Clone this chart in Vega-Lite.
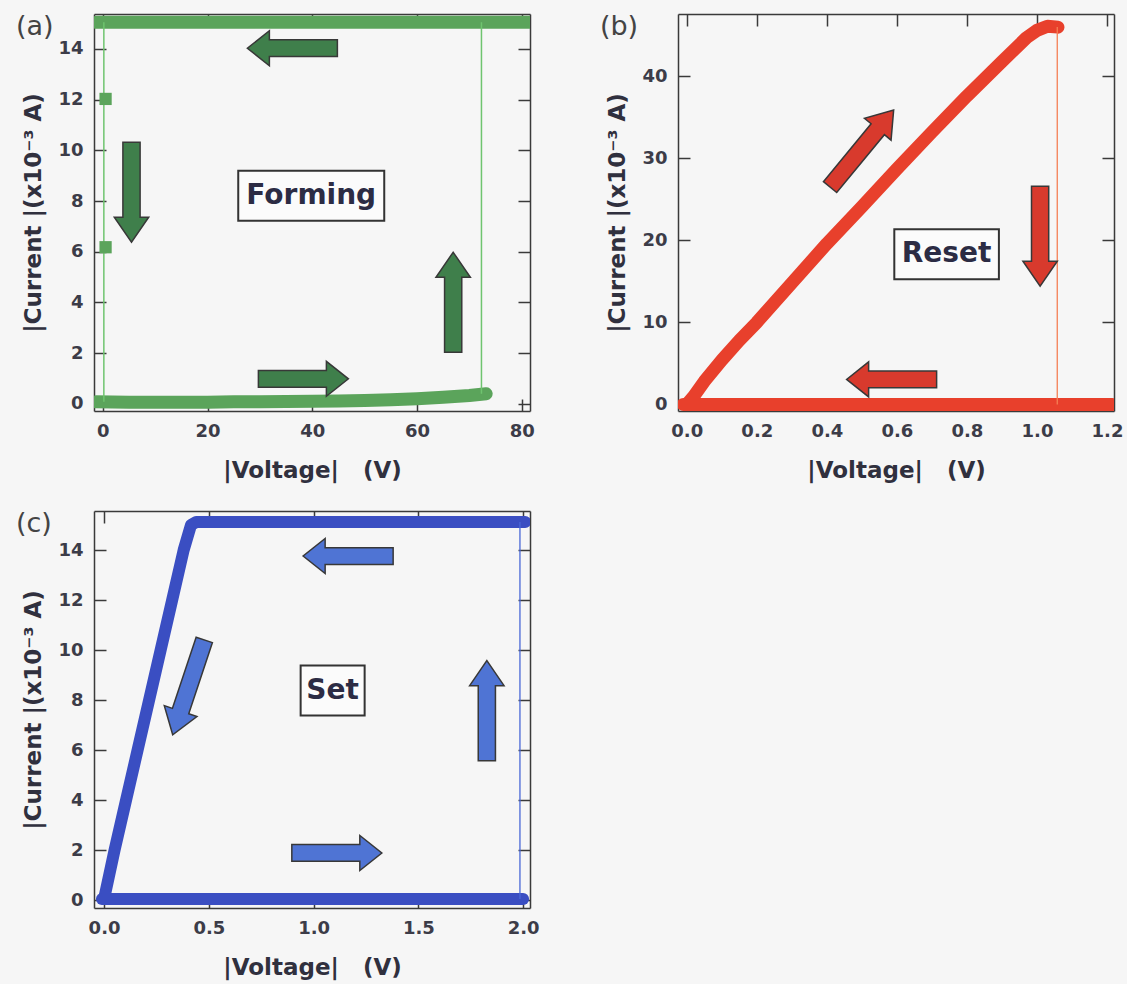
{
  "$schema": "https://vega.github.io/schema/vega-lite/v6.json",
  "background": "#f6f6f6",
  "padding": {"left": 15, "top": 13, "right": 5, "bottom": 5},
  "datasets": {
    "curves": [
      {"p":"a","k":"thick","s":"a1","v":-1.3,"i":0.08},{"p":"a","k":"thick","s":"a1","v":5,"i":0.07},{"p":"a","k":"thick","s":"a1","v":10,"i":0.07},{"p":"a","k":"thick","s":"a1","v":15,"i":0.07},{"p":"a","k":"thick","s":"a1","v":20,"i":0.07},{"p":"a","k":"thick","s":"a1","v":25,"i":0.08},{"p":"a","k":"thick","s":"a1","v":30,"i":0.08},{"p":"a","k":"thick","s":"a1","v":35,"i":0.09},{"p":"a","k":"thick","s":"a1","v":40,"i":0.1},{"p":"a","k":"thick","s":"a1","v":45,"i":0.11},{"p":"a","k":"thick","s":"a1","v":50,"i":0.13},{"p":"a","k":"thick","s":"a1","v":55,"i":0.16},{"p":"a","k":"thick","s":"a1","v":60,"i":0.2},{"p":"a","k":"thick","s":"a1","v":65,"i":0.26},{"p":"a","k":"thick","s":"a1","v":70,"i":0.33},{"p":"a","k":"thick","s":"a1","v":73.2,"i":0.4},
      {"p":"a","k":"thick","s":"a2","v":-1.3,"i":15.05},{"p":"a","k":"thick","s":"a2","v":81.5,"i":15.05},
      {"p":"a","k":"thin","s":"a3","v":72.3,"i":0.4},{"p":"a","k":"thin","s":"a3","v":72.3,"i":15.05},
      {"p":"a","k":"thin","s":"a4","v":0.2,"i":15.05},{"p":"a","k":"thin","s":"a4","v":0.2,"i":0.08},
      {"p":"b","k":"thick","s":"b1","v":0,"i":0},{"p":"b","k":"thick","s":"b1","v":0.02,"i":1.0},{"p":"b","k":"thick","s":"b1","v":0.05,"i":2.8},{"p":"b","k":"thick","s":"b1","v":0.1,"i":5.4},{"p":"b","k":"thick","s":"b1","v":0.15,"i":7.8},{"p":"b","k":"thick","s":"b1","v":0.2,"i":10.0},{"p":"b","k":"thick","s":"b1","v":0.3,"i":14.8},{"p":"b","k":"thick","s":"b1","v":0.4,"i":19.6},{"p":"b","k":"thick","s":"b1","v":0.5,"i":24.1},{"p":"b","k":"thick","s":"b1","v":0.6,"i":28.7},{"p":"b","k":"thick","s":"b1","v":0.7,"i":33.2},{"p":"b","k":"thick","s":"b1","v":0.8,"i":37.6},{"p":"b","k":"thick","s":"b1","v":0.9,"i":41.8},{"p":"b","k":"thick","s":"b1","v":0.97,"i":44.7},{"p":"b","k":"thick","s":"b1","v":1.0,"i":45.6},{"p":"b","k":"thick","s":"b1","v":1.03,"i":46.1},{"p":"b","k":"thick","s":"b1","v":1.06,"i":46.0},
      {"p":"b","k":"thick","s":"b2","v":-0.01,"i":0},{"p":"b","k":"thick","s":"b2","v":1.215,"i":0},
      {"p":"b","k":"thin","s":"b3","v":1.058,"i":46.0},{"p":"b","k":"thin","s":"b3","v":1.058,"i":0},
      {"p":"c","k":"thick","s":"c1","v":0.0,"i":0.05},{"p":"c","k":"thick","s":"c1","v":0.05,"i":2.0},{"p":"c","k":"thick","s":"c1","v":0.105,"i":4.0},{"p":"c","k":"thick","s":"c1","v":0.16,"i":6.0},{"p":"c","k":"thick","s":"c1","v":0.215,"i":8.0},{"p":"c","k":"thick","s":"c1","v":0.27,"i":10.0},{"p":"c","k":"thick","s":"c1","v":0.325,"i":12.0},{"p":"c","k":"thick","s":"c1","v":0.38,"i":14.0},{"p":"c","k":"thick","s":"c1","v":0.415,"i":15.0},{"p":"c","k":"thick","s":"c1","v":0.44,"i":15.12},{"p":"c","k":"thick","s":"c1","v":1.0,"i":15.12},{"p":"c","k":"thick","s":"c1","v":1.5,"i":15.12},{"p":"c","k":"thick","s":"c1","v":2.01,"i":15.12},
      {"p":"c","k":"thick","s":"c2","v":-0.01,"i":0.05},{"p":"c","k":"thick","s":"c2","v":2.0,"i":0.05},
      {"p":"c","k":"thin","s":"c3","v":1.985,"i":15.12},{"p":"c","k":"thin","s":"c3","v":1.985,"i":0.05}
    ],
    "markers": [
      {"p":"a","v":0.53,"i":12.03},{"p":"a","v":0.53,"i":6.18}
    ],
    "arrows": [
      {"p":"a","v":36.2,"i":14.03,"dir":"left"},{"p":"a","v":5.48,"i":8.35,"dir":"down"},{"p":"a","v":66.9,"i":4.01,"dir":"up"},{"p":"a","v":38.3,"i":0.99,"dir":"right"},
      {"p":"b","v":0.5,"i":31.2,"dir":"up-right"},{"p":"b","v":1.009,"i":20.5,"dir":"down"},{"p":"b","v":0.585,"i":3.05,"dir":"left"},
      {"p":"c","v":1.165,"i":13.76,"dir":"left"},{"p":"c","v":0.403,"i":8.51,"dir":"down-left"},{"p":"c","v":1.827,"i":7.58,"dir":"up"},{"p":"c","v":1.111,"i":1.89,"dir":"right"}
    ],
    "boxes": [
      {"p":"a","v":39.8,"i":8.21,"label":"Forming"},
      {"p":"b","v":0.742,"i":18.3,"label":"Reset"},
      {"p":"c","v":1.091,"i":8.38,"label":"Set"}
    ]
  },
  "vconcat": [
    {
      "hconcat": [
        {
          "width": 436, "height": 397,
          "title": {"text": "(a)", "anchor": "start", "frame": "bounds", "baseline": "top", "offset": 0, "dx": -7, "dy": 28, "fontSize": 27, "fontWeight": "normal", "font": "DejaVu Sans", "color": "#444444"},
          "resolve": {"axis": {"x": "independent", "y": "independent"}},
          "layer": [
            {"data": {"name": "curves"}, "transform": [{"filter": "datum.p == 'a' && datum.k == 'thick'"}],
             "mark": {"type": "line", "color": "#5ba45b", "strokeWidth": 13, "strokeCap": "round", "strokeJoin": "round", "clip": true},
             "encoding": {
               "x": {"field": "v", "type": "quantitative", "scale": {"domain": [-1.68, 81.57], "nice": false, "zero": false}, "axis": {"orient": "bottom", "values": [0,20,40,60,80], "format": "d", "title": "|Voltage|\u00a0\u00a0 (V)"}},
               "y": {"field": "i", "type": "quantitative", "scale": {"domain": [-0.28, 15.38], "nice": false, "zero": false}, "axis": {"orient": "left", "values": [0,2,4,6,8,10,12,14], "format": "d", "title": "|Current |(x10⁻³ A)"}},
               "detail": {"field": "s"}
             }},
            {"data": {"name": "curves"}, "transform": [{"filter": "datum.p == 'a' && datum.k == 'thin'"}],
             "mark": {"type": "line", "color": "#6fc46f", "strokeWidth": 1.5, "clip": true},
             "encoding": {
               "x": {"field": "v", "type": "quantitative", "scale": {"domain": [-1.68, 81.57], "nice": false, "zero": false}, "axis": {"orient": "top", "values": [0,20,40,60,80], "labels": false, "title": null}},
               "y": {"field": "i", "type": "quantitative", "scale": {"domain": [-0.28, 15.38], "nice": false, "zero": false}, "axis": {"orient": "right", "values": [0,2,4,6,8,10,12,14], "labels": false, "title": null}},
               "detail": {"field": "s"}
             }},
            {"data": {"name": "markers"}, "transform": [{"filter": "datum.p == 'a'"}],
             "mark": {"type": "point", "shape": "square", "filled": true, "size": 150, "color": "#5ba45b", "opacity": 1},
             "encoding": {
               "x": {"field": "v", "type": "quantitative", "axis": null},
               "y": {"field": "i", "type": "quantitative", "axis": null}
             }},
            {"data": {"name": "arrows"}, "transform": [{"filter": "datum.p == 'a'"}],
             "mark": {"type": "point", "filled": true, "size": 10000, "fill": "#3f7f4b", "stroke": "#383838", "strokeWidth": 1.5, "opacity": 1, "fillOpacity": 1},
             "encoding": {
               "x": {"field": "v", "type": "quantitative", "axis": null},
               "y": {"field": "i", "type": "quantitative", "axis": null},
               "shape": {"field": "dir", "type": "nominal", "legend": null, "scale": {"domain": ["right","left","up","down","up-right","down-left"], "range": ["M-0.9,-0.167L0.46,-0.167L0.46,-0.35L0.9,0L0.46,0.35L0.46,0.167L-0.9,0.167Z","M0.9,-0.167L-0.46,-0.167L-0.46,-0.35L-0.9,0L-0.46,0.35L-0.46,0.167L0.9,0.167Z","M-0.172,1L-0.172,-0.5L-0.344,-0.5L0,-1L0.344,-0.5L0.172,-0.5L0.172,1Z","M-0.172,-1L-0.172,0.5L-0.344,0.5L0,1L0.344,0.5L0.172,0.5L0.172,-1Z","M-0.769,0.663L0.185,-0.495L0.052,-0.605L0.636,-0.772L0.584,-0.167L0.451,-0.277L-0.503,0.881Z","M0.479,-0.895L0.005,0.529L0.169,0.583L-0.316,0.949L-0.484,0.366L-0.321,0.42L0.153,-1.003Z"]}}
             }},
            {"data": {"name": "boxes"}, "transform": [{"filter": "datum.p == 'a'"}],
             "mark": {"type": "point", "shape": "M-1,-0.342L1,-0.342L1,0.342L-1,0.342Z", "size": 21316, "filled": true, "fill": "#fbfbfb", "stroke": "#333333", "strokeWidth": 2, "opacity": 1},
             "encoding": {
               "x": {"field": "v", "type": "quantitative", "axis": null},
               "y": {"field": "i", "type": "quantitative", "axis": null}
             }},
            {"data": {"name": "boxes"}, "transform": [{"filter": "datum.p == 'a'"}],
             "mark": {"type": "text", "font": "DejaVu Sans", "fontWeight": "bold", "fontSize": 28, "color": "#2c2c44", "baseline": "middle", "align": "center"},
             "encoding": {
               "x": {"field": "v", "type": "quantitative", "axis": null},
               "y": {"field": "i", "type": "quantitative", "axis": null},
               "text": {"field": "label"}
             }}
          ]
        },
        {
          "width": 436, "height": 397,
          "title": {"text": "(b)", "anchor": "start", "frame": "bounds", "baseline": "top", "offset": 0, "dx": -7, "dy": 28, "fontSize": 27, "fontWeight": "normal", "font": "DejaVu Sans", "color": "#444444"},
          "resolve": {"axis": {"x": "independent", "y": "independent"}},
          "layer": [
            {"data": {"name": "curves"}, "transform": [{"filter": "datum.p == 'b' && datum.k == 'thick'"}],
             "mark": {"type": "line", "color": "#e8402c", "strokeWidth": 13, "strokeCap": "round", "strokeJoin": "round", "clip": true},
             "encoding": {
               "x": {"field": "v", "type": "quantitative", "scale": {"domain": [-0.025, 1.22], "nice": false, "zero": false}, "axis": {"orient": "bottom", "values": [0,0.2,0.4,0.6,0.8,1.0,1.2], "format": ".1f", "title": "|Voltage|\u00a0\u00a0 (V)"}},
               "y": {"field": "i", "type": "quantitative", "scale": {"domain": [-0.8, 47.6], "nice": false, "zero": false}, "axis": {"orient": "left", "values": [0,10,20,30,40], "format": "d", "title": "|Current |(x10⁻³ A)"}},
               "detail": {"field": "s"}
             }},
            {"data": {"name": "curves"}, "transform": [{"filter": "datum.p == 'b' && datum.k == 'thin'"}],
             "mark": {"type": "line", "color": "#f47f55", "strokeWidth": 1.3, "clip": true},
             "encoding": {
               "x": {"field": "v", "type": "quantitative", "scale": {"domain": [-0.025, 1.22], "nice": false, "zero": false}, "axis": {"orient": "top", "values": [0,0.2,0.4,0.6,0.8,1.0,1.2], "labels": false, "title": null}},
               "y": {"field": "i", "type": "quantitative", "scale": {"domain": [-0.8, 47.6], "nice": false, "zero": false}, "axis": {"orient": "right", "values": [0,10,20,30,40], "labels": false, "title": null}},
               "detail": {"field": "s"}
             }},
            {"data": {"name": "arrows"}, "transform": [{"filter": "datum.p == 'b'"}],
             "mark": {"type": "point", "filled": true, "size": 10000, "fill": "#d83a2d", "stroke": "#383838", "strokeWidth": 1.5, "opacity": 1, "fillOpacity": 1},
             "encoding": {
               "x": {"field": "v", "type": "quantitative", "axis": null},
               "y": {"field": "i", "type": "quantitative", "axis": null},
               "shape": {"field": "dir", "type": "nominal", "legend": null, "scale": {"domain": ["right","left","up","down","up-right","down-left"], "range": ["M-0.9,-0.167L0.46,-0.167L0.46,-0.35L0.9,0L0.46,0.35L0.46,0.167L-0.9,0.167Z","M0.9,-0.167L-0.46,-0.167L-0.46,-0.35L-0.9,0L-0.46,0.35L-0.46,0.167L0.9,0.167Z","M-0.172,1L-0.172,-0.5L-0.344,-0.5L0,-1L0.344,-0.5L0.172,-0.5L0.172,1Z","M-0.172,-1L-0.172,0.5L-0.344,0.5L0,1L0.344,0.5L0.172,0.5L0.172,-1Z","M-0.769,0.663L0.185,-0.495L0.052,-0.605L0.636,-0.772L0.584,-0.167L0.451,-0.277L-0.503,0.881Z","M0.479,-0.895L0.005,0.529L0.169,0.583L-0.316,0.949L-0.484,0.366L-0.321,0.42L0.153,-1.003Z"]}}
             }},
            {"data": {"name": "boxes"}, "transform": [{"filter": "datum.p == 'b'"}],
             "mark": {"type": "point", "shape": "M-1,-0.478L1,-0.478L1,0.478L-1,0.478Z", "size": 10941, "filled": true, "fill": "#fbfbfb", "stroke": "#333333", "strokeWidth": 2, "opacity": 1},
             "encoding": {
               "x": {"field": "v", "type": "quantitative", "axis": null},
               "y": {"field": "i", "type": "quantitative", "axis": null}
             }},
            {"data": {"name": "boxes"}, "transform": [{"filter": "datum.p == 'b'"}],
             "mark": {"type": "text", "font": "DejaVu Sans", "fontWeight": "bold", "fontSize": 28, "color": "#2c2c44", "baseline": "middle", "align": "center"},
             "encoding": {
               "x": {"field": "v", "type": "quantitative", "axis": null},
               "y": {"field": "i", "type": "quantitative", "axis": null},
               "text": {"field": "label"}
             }}
          ]
        }
      ],
      "spacing": 64
    },
    {
      "width": 436, "height": 397,
      "title": {"text": "(c)", "anchor": "start", "frame": "bounds", "baseline": "top", "offset": 0, "dx": -7, "dy": 28, "fontSize": 27, "fontWeight": "normal", "font": "DejaVu Sans", "color": "#444444"},
      "resolve": {"axis": {"x": "independent", "y": "independent"}},
      "layer": [
        {"data": {"name": "curves"}, "transform": [{"filter": "datum.p == 'c' && datum.k == 'thick'"}],
         "mark": {"type": "line", "color": "#3a4ec2", "strokeWidth": 12, "strokeCap": "round", "strokeJoin": "round", "clip": true},
         "encoding": {
           "x": {"field": "v", "type": "quantitative", "scale": {"domain": [-0.048, 2.033], "nice": false, "zero": false}, "axis": {"orient": "bottom", "values": [0,0.5,1.0,1.5,2.0], "format": ".1f", "title": "|Voltage|\u00a0\u00a0 (V)"}},
           "y": {"field": "i", "type": "quantitative", "scale": {"domain": [-0.31, 15.56], "nice": false, "zero": false}, "axis": {"orient": "left", "values": [0,2,4,6,8,10,12,14], "format": "d", "title": "|Current |(x10⁻³ A)"}},
           "detail": {"field": "s"}
         }},
        {"data": {"name": "curves"}, "transform": [{"filter": "datum.p == 'c' && datum.k == 'thin'"}],
         "mark": {"type": "line", "color": "#4866d6", "strokeWidth": 1.3, "clip": true},
         "encoding": {
           "x": {"field": "v", "type": "quantitative", "scale": {"domain": [-0.048, 2.033], "nice": false, "zero": false}, "axis": {"orient": "top", "values": [0,0.5,1.0,1.5,2.0], "labels": false, "title": null}},
           "y": {"field": "i", "type": "quantitative", "scale": {"domain": [-0.31, 15.56], "nice": false, "zero": false}, "axis": {"orient": "right", "values": [0,2,4,6,8,10,12,14], "labels": false, "title": null}},
           "detail": {"field": "s"}
         }},
        {"data": {"name": "arrows"}, "transform": [{"filter": "datum.p == 'c'"}],
         "mark": {"type": "point", "filled": true, "size": 10000, "fill": "#4f74d4", "stroke": "#383838", "strokeWidth": 1.5, "opacity": 1, "fillOpacity": 1},
         "encoding": {
           "x": {"field": "v", "type": "quantitative", "axis": null},
           "y": {"field": "i", "type": "quantitative", "axis": null},
           "shape": {"field": "dir", "type": "nominal", "legend": null, "scale": {"domain": ["right","left","up","down","up-right","down-left"], "range": ["M-0.9,-0.167L0.46,-0.167L0.46,-0.35L0.9,0L0.46,0.35L0.46,0.167L-0.9,0.167Z","M0.9,-0.167L-0.46,-0.167L-0.46,-0.35L-0.9,0L-0.46,0.35L-0.46,0.167L0.9,0.167Z","M-0.172,1L-0.172,-0.5L-0.344,-0.5L0,-1L0.344,-0.5L0.172,-0.5L0.172,1Z","M-0.172,-1L-0.172,0.5L-0.344,0.5L0,1L0.344,0.5L0.172,0.5L0.172,-1Z","M-0.769,0.663L0.185,-0.495L0.052,-0.605L0.636,-0.772L0.584,-0.167L0.451,-0.277L-0.503,0.881Z","M0.479,-0.895L0.005,0.529L0.169,0.583L-0.316,0.949L-0.484,0.366L-0.321,0.42L0.153,-1.003Z"]}}
         }},
        {"data": {"name": "boxes"}, "transform": [{"filter": "datum.p == 'c'"}],
         "mark": {"type": "point", "shape": "M-1,-0.781L1,-0.781L1,0.781L-1,0.781Z", "size": 4096, "filled": true, "fill": "#fbfbfb", "stroke": "#333333", "strokeWidth": 2, "opacity": 1},
         "encoding": {
           "x": {"field": "v", "type": "quantitative", "axis": null},
           "y": {"field": "i", "type": "quantitative", "axis": null}
         }},
        {"data": {"name": "boxes"}, "transform": [{"filter": "datum.p == 'c'"}],
         "mark": {"type": "text", "font": "DejaVu Sans", "fontWeight": "bold", "fontSize": 28, "color": "#2c2c44", "baseline": "middle", "align": "center"},
         "encoding": {
           "x": {"field": "v", "type": "quantitative", "axis": null},
           "y": {"field": "i", "type": "quantitative", "axis": null},
           "text": {"field": "label"}
         }}
      ]
    }
  ],
  "spacing": 28,
  "config": {
    "font": "DejaVu Sans",
    "view": {"stroke": null},
    "axis": {
      "grid": false,
      "labelFont": "DejaVu Sans", "labelFontWeight": "bold", "labelFontSize": 18, "labelColor": "#3c3c48",
      "labelPadding": 23, "labelFlush": false, "labelOverlap": false,
      "titleFont": "DejaVu Sans", "titleFontWeight": "bold", "titleFontSize": 23, "titleColor": "#30303e",
      "domainColor": "#3a3a3a", "domainWidth": 1.5,
      "tickColor": "#3a3a3a", "tickWidth": 1.5, "tickSize": -12
    },
    "axisX": {"titlePadding": 19},
    "axisY": {"titlePadding": 12}
  }
}
